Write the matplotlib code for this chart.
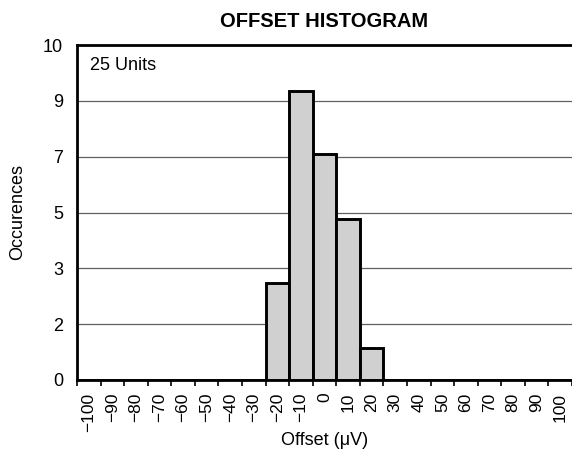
import matplotlib.pyplot as plt
import numpy as np

plt.rcParams['font.family'] = ['Liberation Sans', 'DejaVu Sans']

# bin labels (offset, uV) and bar heights (in axis grid units)
offset_bins = ['\u2212100', '\u221290', '\u221280', '\u221270', '\u221260', '\u221250',
               '\u221240', '\u221230', '\u221220', '\u221210', '0', '10', '20', '30',
               '40', '50', '60', '70', '80', '90', '100']
heights = [0, 0, 0, 0, 0, 0, 0, 0, 1.73, 5.18, 4.04, 2.88, 0.58,
           0, 0, 0, 0, 0, 0, 0, 0]
ytick_labels = ['0', '2', '3', '5', '7', '9', '10']

fig = plt.figure(figsize=(5.72, 4.53), dpi=100)
ax = fig.add_axes([77 / 572, 73 / 453, 1 - 77 / 572, 335 / 453])

x = np.arange(len(offset_bins))
ax.bar(x, heights, width=1.0, color='#d0d0d0', edgecolor='black', linewidth=2.1, zorder=3)

ax.set_xlim(-0.5, len(offset_bins) - 0.5)
ax.set_ylim(0, len(ytick_labels) - 1)

ax.set_yticks(range(len(ytick_labels)))
ax.set_yticklabels(ytick_labels, fontsize=13)
ax.tick_params(axis='y', length=0, pad=10)
ax.yaxis.grid(True, color='#606060', linewidth=0.9, zorder=0)

ax.set_xticks(x)
ax.set_xticklabels(offset_bins, rotation=90, fontsize=12.5)
ax.tick_params(axis='x', which='major', length=0, pad=9)
ax.set_xticks(np.arange(len(offset_bins) + 1) - 0.5, minor=True)
ax.tick_params(axis='x', which='minor', length=4, width=1.2, direction='out')

for side in ['left', 'bottom', 'top']:
    ax.spines[side].set_linewidth(2.0)
ax.spines['right'].set_visible(False)

ax.set_ylabel('Occurences', fontsize=13)
ax.yaxis.set_label_coords(-0.103, 0.5)
ax.set_xlabel('Offset (\u03bcV)', fontsize=13)
ax.xaxis.set_label_coords(0.5, -0.155)
ax.set_title('OFFSET HISTOGRAM', fontsize=14.5, fontweight='bold', pad=13)
ax.text(0.026, 0.965, '25 Units', transform=ax.transAxes, fontsize=13, va='top')

fig.savefig('out.png', dpi=100)
